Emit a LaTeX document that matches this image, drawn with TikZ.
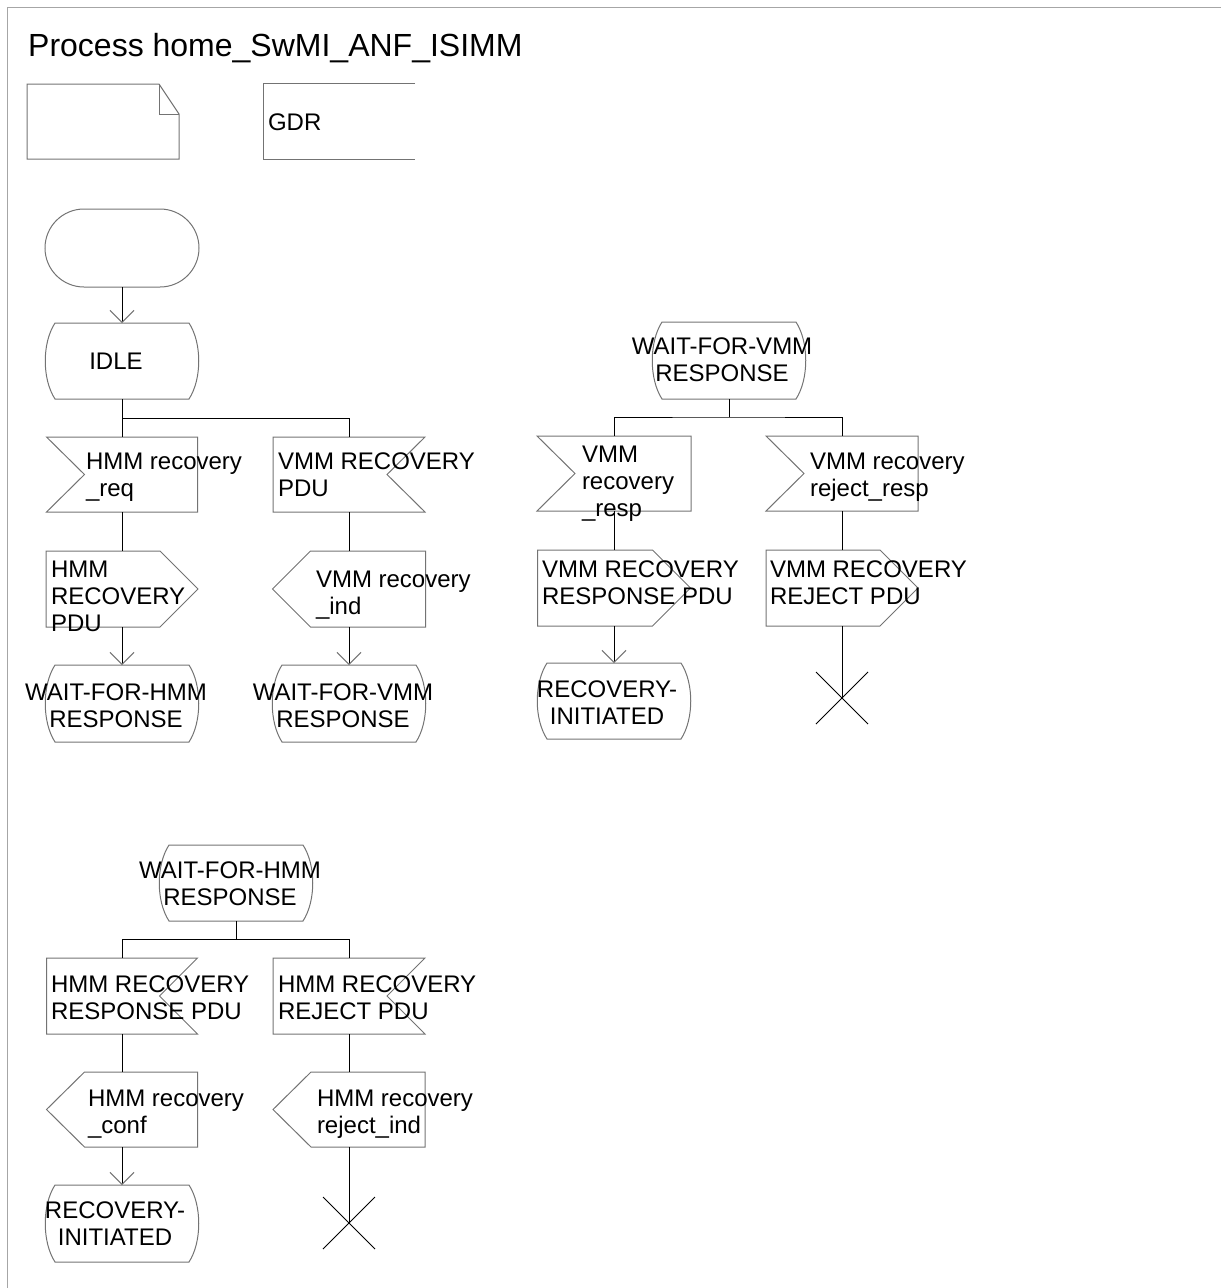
\documentclass[tikz,border=0pt]{standalone}
\usepackage{fontspec}
\setmainfont{Liberation Sans}
\usetikzlibrary{calc,arrows.meta,shapes.misc}
\newcommand\sdlL{\rule[-5.5pt]{0pt}{21.5pt}}
\newcommand\sdlInL[1]{\draw[outl] (#1.north west) -- (#1.north east) -- (#1.south east) -- (#1.south west) -- ($(#1.west)+(38,0)$) -- cycle;}
\newcommand\sdlInR[1]{\draw[outl] (#1.north west) -- (#1.north east) -- ($(#1.east)+(-38,0)$) -- (#1.south east) -- (#1.south west) -- cycle;}
\newcommand\sdlOutR[1]{\draw[outl] (#1.north west) -- ($(#1.north east)+(-38,0)$) -- (#1.east) -- ($(#1.south east)+(-38,0)$) -- (#1.south west) -- cycle;}
\newcommand\sdlOutL[1]{\draw[outl] (#1.west) -- ($(#1.north west)+(38,0)$) -- (#1.north east) -- (#1.south east) -- ($(#1.south west)+(38,0)$) -- cycle;}
\newcommand\sdlState[1]{\draw[outl] ($(#1.north west)+(10,0)$) -- ($(#1.north east)+(-10,0)$) .. controls ($(#1.north east)+(3,20)$) and ($(#1.south east)+(3,-20)$) .. ($(#1.south east)+(-10,0)$) -- ($(#1.south west)+(10,0)$) .. controls ($(#1.south west)+(-3,-20)$) and ($(#1.north west)+(-3,20)$) .. ($(#1.north west)+(10,0)$) -- cycle;}
\newcommand\sdlStop[1]{\draw[conn] (#1.north west) -- (#1.south east) (#1.north east) -- (#1.south west);}
\begin{document}
\begin{tikzpicture}[x=1pt,y=-1pt,
  outl/.style={draw=black!55, line width=1pt},
  conn/.style={draw=black, line width=1pt},
  arr/.style={conn, -{Straight Barb[length=12pt,width=24pt,color=black!55]}},
  box/.style={inner sep=0pt, outer sep=0pt},
  txt/.style={inner sep=0pt, outer sep=0pt, yshift=-2pt, font=\fontsize{24}{27}\selectfont},
  ltxt/.style={txt, anchor=west, align=left},
  ctxt/.style={txt, align=center}]
\useasboundingbox (0,0) rectangle (1221,1288);
\draw[draw=black!35, line width=1pt] (7,1288) -- (7,7) -- (1221,7);

\node[inner sep=0pt, anchor=base west, font=\fontsize{32}{36}\selectfont] (title) at (28,56) {Process home\_SwMI\_ANF\_ISIMM};

% text symbol and GDR
\node[box, minimum width=152pt, minimum height=75pt] (doc) at (103,121.5) {};
\draw[outl] (doc.north west) -- ($(doc.north east)+(-20,0)$) -- ($(doc.north east)+(0,30)$) -- (doc.south east) -- (doc.south west) -- cycle;
\draw[outl] ($(doc.north east)+(-20,0)$) -- ($(doc.north east)+(-20,30)$) -- ($(doc.north east)+(0,30)$);
\node[box, minimum width=152pt, minimum height=76pt] (gdr) at (339,121) {};
\draw[outl] (gdr.north east) -- (gdr.north west) -- (gdr.south west) -- (gdr.south east);
\node[ltxt] (gdrt) at (268,123) {\sdlL GDR};

% left group
\node[box, rounded rectangle, draw=black!55, line width=1pt, minimum width=154pt, minimum height=78pt] (start) at (122,248) {};
\node[box, minimum width=154pt, minimum height=76pt] (idle) at (122,361) {}; \sdlState{idle}
\node[ctxt] (idlet) at (116,362) {\sdlL IDLE};
\node[box, minimum width=151pt, minimum height=75pt] (in1) at (122,474.5) {}; \sdlInL{in1}
\node[ltxt] (in1t) at (86,475) {\sdlL HMM recovery\\\sdlL\_req};
\node[box, minimum width=152pt, minimum height=75pt] (in2) at (349,474.5) {}; \sdlInR{in2}
\node[ltxt] (in2t) at (278,475) {\sdlL VMM RECOVERY\\\sdlL PDU};
\node[box, minimum width=152pt, minimum height=76pt] (out1) at (122,589) {}; \sdlOutR{out1}
\node[ltxt] (out1t) at (51,597) {\sdlL HMM\\\sdlL RECOVERY\\\sdlL PDU};
\node[box, minimum width=153pt, minimum height=76pt] (out2) at (349,589) {}; \sdlOutL{out2}
\node[ltxt] (out2t) at (316,593) {\sdlL VMM recovery\\\sdlL\_ind};
\node[box, minimum width=154pt, minimum height=77pt] (wfh1) at (122,703.5) {}; \sdlState{wfh1}
\node[ctxt] (wfh1t) at (116,706) {\sdlL WAIT-FOR-HMM\\\sdlL RESPONSE};
\node[box, minimum width=154pt, minimum height=77pt] (wfv1) at (349,703.5) {}; \sdlState{wfv1}
\node[ctxt] (wfv1t) at (343,706) {\sdlL WAIT-FOR-VMM\\\sdlL RESPONSE};

\draw[arr] (start.south) -- (idle.north);
\draw[conn] (idle.south) -- (in1.north);
\draw[conn] (idle.south) ++(0,19) -| (in2.north);
\draw[conn] (in1.south) -- (out1.north);
\draw[arr] (out1.south) -- (wfh1.north);
\draw[conn] (in2.south) -- (out2.north);
\draw[arr] (out2.south) -- (wfv1.north);

% right group
\node[box, minimum width=154pt, minimum height=77pt] (wfv2) at (729,360.5) {}; \sdlState{wfv2}
\node[ctxt] (wfv2t) at (722,360) {\sdlL WAIT-FOR-VMM\\\sdlL RESPONSE};
\node[box, minimum width=154pt, minimum height=75pt] (in3) at (614,473.5) {}; \sdlInL{in3}
\node[ltxt] (in3t) at (582,482) {\sdlL VMM\\\sdlL recovery\\\sdlL\_resp};
\node[box, minimum width=152pt, minimum height=75pt] (in4) at (842,473.5) {}; \sdlInL{in4}
\node[ltxt] (in4t) at (810,475) {\sdlL VMM recovery\\\sdlL reject\_resp};
\node[box, minimum width=153pt, minimum height=76pt] (out3) at (614,588) {}; \sdlOutR{out3}
\node[ltxt] (out3t) at (542,583) {\sdlL VMM RECOVERY\\\sdlL RESPONSE PDU};
\node[box, minimum width=152pt, minimum height=76pt] (out4) at (842,588) {}; \sdlOutR{out4}
\node[ltxt] (out4t) at (770,583) {\sdlL VMM RECOVERY\\\sdlL REJECT PDU};
\node[box, minimum width=154pt, minimum height=76pt] (ri1) at (614,701) {}; \sdlState{ri1}
\node[ctxt] (ri1t) at (607,703) {\sdlL RECOVERY-\\\sdlL INITIATED};
\node[box, minimum width=52pt, minimum height=52pt] (stop1) at (842,698) {}; \sdlStop{stop1}

\draw[conn] (wfv2.south) -- ++(0,18) coordinate (bus2);
\draw[conn] (in3.north) |- (bus2) -| (in4.north);
\draw[conn] (in3.south) -- (out3.north);
\draw[arr] (out3.south) -- (ri1.north);
\draw[conn] (in4.south) -- (out4.north);
\draw[conn] (out4.south) -- (stop1.center);

% bottom group
\node[box, minimum width=154pt, minimum height=76pt] (wfh2) at (236,883) {}; \sdlState{wfh2}
\node[ctxt] (wfh2t) at (230,884) {\sdlL WAIT-FOR-HMM\\\sdlL RESPONSE};
\node[box, minimum width=151pt, minimum height=76pt] (in5) at (122,996) {}; \sdlInR{in5}
\node[ltxt] (in5t) at (51,998) {\sdlL HMM RECOVERY\\\sdlL RESPONSE PDU};
\node[box, minimum width=152pt, minimum height=76pt] (in6) at (349,996) {}; \sdlInR{in6}
\node[ltxt] (in6t) at (278,998) {\sdlL HMM RECOVERY\\\sdlL REJECT PDU};
\node[box, minimum width=151pt, minimum height=75pt] (out5) at (122,1109.5) {}; \sdlOutL{out5}
\node[ltxt] (out5t) at (88,1112) {\sdlL HMM recovery\\\sdlL\_conf};
\node[box, minimum width=152pt, minimum height=75pt] (out6) at (349,1109.5) {}; \sdlOutL{out6}
\node[ltxt] (out6t) at (317,1112) {\sdlL HMM recovery\\\sdlL reject\_ind};
\node[box, minimum width=154pt, minimum height=77pt] (ri2) at (122,1223.5) {}; \sdlState{ri2}
\node[ctxt] (ri2t) at (115,1224) {\sdlL RECOVERY-\\\sdlL INITIATED};
\node[box, minimum width=52pt, minimum height=52pt] (stop2) at (349,1223) {}; \sdlStop{stop2}

\draw[conn] (wfh2.south) -- ++(0,18) coordinate (bus3);
\draw[conn] (in5.north) |- (bus3) -| (in6.north);
\draw[conn] (in5.south) -- (out5.north);
\draw[arr] (out5.south) -- (ri2.north);
\draw[conn] (in6.south) -- (out6.north);
\draw[conn] (out6.south) -- (stop2.center);
\end{tikzpicture}
\end{document}
